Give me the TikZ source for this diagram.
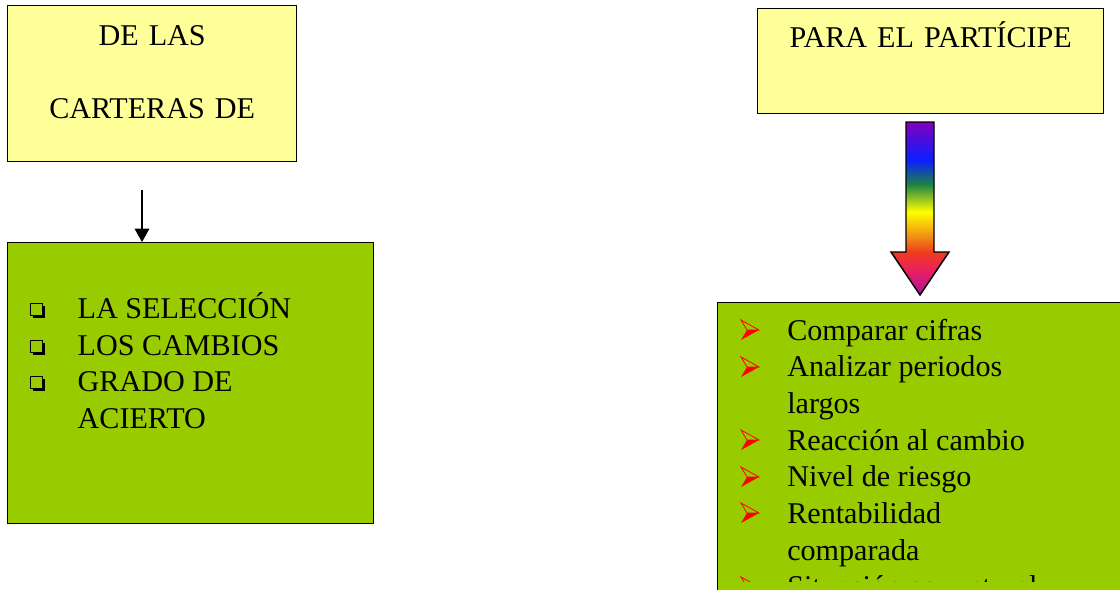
\documentclass[tikz,border=0pt]{standalone}
\usepackage{fontspec}
\setmainfont{Liberation Serif}
\usetikzlibrary{arrows.meta}

\definecolor{notepad}{HTML}{FFFF99}
\definecolor{leafgreen}{HTML}{99CC00}
\definecolor{rbpurple}{RGB}{130,0,190}
\definecolor{rbblue}{RGB}{10,30,255}
\definecolor{rbgreen}{RGB}{30,130,70}
\definecolor{rbyellow}{RGB}{255,255,0}
\definecolor{rborange}{RGB}{240,140,20}
\definecolor{rbred}{RGB}{240,60,30}
\definecolor{rbpink}{RGB}{230,30,100}
\definecolor{rbviolet}{RGB}{170,20,160}

\pgfdeclareverticalshading{rainbow}{100bp}{color(0bp)=(rbviolet);
  color(25bp)=(rbviolet); color(31.6bp)=(rbpink); color(37.4bp)=(rbred);
  color(41.8bp)=(rborange); color(49bp)=(rbyellow); color(57bp)=(rbgreen);
  color(64bp)=(rbblue); color(75bp)=(rbpurple); color(100bp)=(rbpurple)}

\tikzset{
  boxbullet/.pic={
    \fill[black] (3,-12) rectangle (15,0);
    \draw[black,line width=0.6pt,fill=leafgreen] (0,-15) rectangle (12,-3);
  },
  arrowbullet/.pic={
    \fill[red] (0,0) -- (18,-10) -- (6,-10) -- cycle;
    \draw[red,line width=0.6pt,line join=miter] (0,-20) -- (18,-10) -- (6,-10) -- cycle;
  }
}

\begin{document}
\begin{tikzpicture}[x=0.75pt,y=-0.75pt,
  font=\fontsize{22.6}{27.4}\selectfont,
  titlebox/.style={draw,line width=1pt,fill=notepad,inner sep=0pt,
    align=center,anchor=north west},
  listbox/.style={draw,line width=1pt,fill=leafgreen,inner sep=0pt,
    anchor=north west}]
\useasboundingbox (0,0) rectangle (1120,589);
\clip (0,0) rectangle (1120,589);

\node[titlebox,text width=216.75pt,text height=30pt,text depth=87pt]
  (carteras) at (7,5) {DE LAS\\[27.45pt]CARTERAS DE};
\node[listbox,text height=57pt,text depth=153.75pt] (seleccion) at (7,242)
  {\begin{tabular}[t]{@{\hspace{52.5pt}}p{222pt}@{}}
   LA SELECCIÓN\\
   LOS CAMBIOS\\
   GRADO DE\\
   ACIERTO
   \end{tabular}};
\foreach \row in {318,355,391}
  \pic at (30,\row) {boxbullet};
\coordinate (drop) at (142,190);
\draw[line width=0.8pt,-{Triangle[width=11pt,length=10pt]}]
  (drop) -- (drop |- seleccion.north);

\node[titlebox,text width=259.5pt,text height=29.25pt,text depth=49.5pt]
  (participe) at (757,8) {PARA EL PARTÍCIPE};
\node[listbox,minimum width=306pt,minimum height=225pt] (criterios) at (717,302) {};
\begin{scope}
  \clip (0,0) rectangle (1120,581);
  \node[anchor=base west,inner sep=0pt,font=\fontsize{22.6}{27.5}\selectfont]
    (criteriostexto) at (787,340)
    {\begin{tabular}[t]{@{}l@{}}
     Comparar cifras\\
     Analizar periodos\\
     largos\\
     Reacción al cambio\\
     Nivel de riesgo\\
     Rentabilidad\\
     comparada\\
     Situación coyuntural
     \end{tabular}};
  \foreach \row in {340,377,450,487,523,597}
    \pic at (741,\row) {arrowbullet};
\end{scope}
\coordinate (tail) at (920,122);
\path[shading=rainbow,draw=black,line width=1.1pt,line join=miter]
  (tail) ++(-14,0) -- ++(28,0) -- ++(0,130) -- ++(15,0)
  -- ++(-29,43) -- ++(-29,-43) -- ++(15,0) -- cycle;
\end{tikzpicture}
\end{document}
